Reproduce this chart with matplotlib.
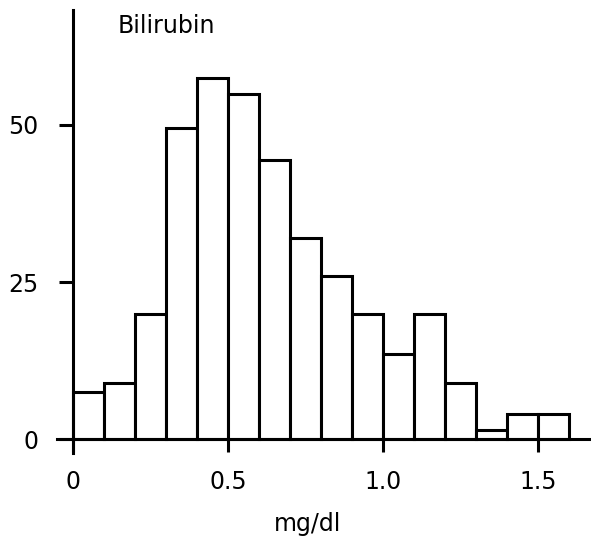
import numpy as np
import matplotlib
matplotlib.use('Agg')
from matplotlib import pyplot as plt

# 胆红素分布（每组宽 0.1 mg/dl）
bin_edges = np.round(np.arange(0, 1.6, 0.1), 2)
counts = [7.5, 9, 20, 49.5, 57.5, 55, 44.5, 32, 26, 20, 13.5, 20, 9, 1.5, 4, 4]
x_ticks = [0, 0.5, 1.0, 1.5]
x_tick_labels = ['0', '0.5', '1.0', '1.5']
y_ticks = [0, 25, 50]

plt.rcParams['font.family'] = ['DejaVu Sans']
fig = plt.figure(figsize=(5.91, 5.40), dpi=100)
ax = fig.add_axes([57 / 591, 1 - 453 / 540, 533 / 591, 443 / 540])

ax.bar(bin_edges, counts, width=0.1, align='edge', color='white',
       edgecolor='black', linewidth=2.2, zorder=2)

ax.set_xlim(-0.052, 1.668)
ax.set_ylim(-2.2, 68.3)

# 坐标轴交于原点
for side in ['top', 'right']:
    ax.spines[side].set_visible(False)
ax.spines['left'].set_position(('data', 0))
ax.spines['bottom'].set_position(('data', 0))
for side in ['left', 'bottom']:
    ax.spines[side].set_linewidth(2.2)
    ax.spines[side].set_zorder(3)

ax.set_xticks(x_ticks)
ax.set_xticklabels(x_tick_labels)
ax.set_yticks(y_ticks)
ax.tick_params(axis='x', direction='out', length=9.5, width=2.2, pad=13, labelsize=17)
ax.tick_params(axis='y', direction='out', length=10, width=2.2, pad=15, labelsize=17)

fig.text(118 / 591, 1 - 26 / 540, 'Bilirubin', ha='left', va='center', fontsize=17)
fig.text(308 / 591, 1 - 524 / 540, 'mg/dl', ha='center', va='center', fontsize=17)

fig.savefig('out.png', dpi=100)
